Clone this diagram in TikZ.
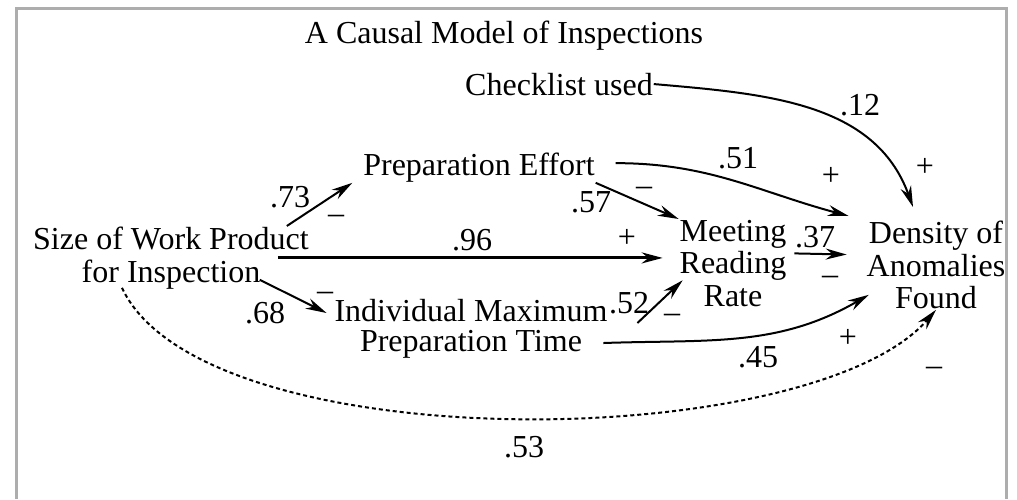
\documentclass[tikz,border=0pt]{standalone}
\usepackage{fontspec}
\setmainfont{Liberation Serif}
\usetikzlibrary{arrows.meta}

\tikzset{
  txt/.style={inner sep=0pt,align=center,font=\fontsize{32}{32.5}\selectfont},
  coef/.style={inner sep=0pt,anchor=base,font=\fontsize{32}{32}\selectfont},
  sgn/.style={coef},
}

\begin{document}
\begin{tikzpicture}[x=1pt,y=-1pt,line width=2pt,>={Stealth[length=21pt,width=11pt]}]
			\useasboundingbox (0,0) rectangle (1017,499);
			\draw[black!32,line width=2.8pt] (16.3,499) -- (16.3,8.7) -- (1006.8,8.7) -- (1006.8,499);
			% variables
			\node[txt,anchor=base] (title)at(504,43) {A Causal Model of Inspections};
			\node[txt,anchor=base] (check)at(559,95) {Checklist used};
			\node[txt,anchor=base] (prep)at(479,175) {Preparation Effort};
			\node[txt,anchor=north] (size)at(171,226) {Size of Work Product\\for Inspection};
			\node[txt,anchor=north] (meet)at(733,219) {Meeting\\Reading\\Rate};
			\node[txt,anchor=north] (dens)at(936,220) {Density of\\Anomalies\\Found};
			\node[txt,anchor=north,font=\fontsize{32}{30}\selectfont] (indiv)at(471,298) {Individual Maximum\\Preparation Time};
			% path coefficients
			\node[coef] (c12)at(860,115) {.12};
			\node[coef] (c51)at(738,168) {.51};
			\node[coef] (c57)at(591,212) {.57};
			\node[coef] (c73)at(290,207) {.73};
			\node[coef] (c96)at(472,250) {.96};
			\node[coef] (c37)at(815,247) {.37};
			\node[coef] (c52)at(629,313) {.52};
			\node[coef] (c68)at(265,323) {.68};
			\node[coef] (c45)at(758,367) {.45};
			\node[coef] (c53)at(524,457) {.53};
			% signs
			\node[sgn] (s12)at(925,176) {+};
			\node[sgn] (s51)at(831,185) {+};
			\node[sgn] (s57)at(644,195) {–};
			\node[sgn] (s96)at(627,247) {+};
			\node[sgn] (s73)at(336,223) {–};
			\node[sgn] (s37)at(830,284) {–};
			\node[sgn] (s52)at(672,322) {–};
			\node[sgn] (s68)at(325,300) {–};
			\node[sgn] (s45)at(848,347) {+};
			\node[sgn] (s53)at(934,375) {–};
			% paths
			\draw[->] (check.east) to[out=-5,in=110] ([xshift=-23pt,yshift=13pt]dens.north);
			\draw[->] ([xshift=20pt,yshift=4pt]prep.east) to[out=0,in=165] ([xshift=-17pt,yshift=4pt]dens.north west);
			\draw[->] (prep.south east) -- (meet.north west);
			\draw[->,line width=3pt,shorten <=-32pt,shorten >=16pt] (size.east) -- (size.east -| meet.west);
			\draw[->,shorten <=7pt,shorten >=19pt] ([yshift=10pt]meet.east) -- ([yshift=10pt]dens.west);
			\draw[->] ([xshift=-23pt]size.north east) -- ([xshift=-10pt]prep.south west);
			\draw[->] ([xshift=-50pt,yshift=10pt]size.south east) -- ([xshift=-7pt,yshift=-15pt]indiv.north west);
			\draw[->] ([xshift=29pt,yshift=-25pt]indiv.north east) -- ([xshift=4pt,yshift=-17pt]meet.west);
			\draw[->] ([xshift=-5pt,yshift=-14.5pt]indiv.east) to[out=2,in=-150] ([xshift=3pt,yshift=15pt]dens.south west);
			\draw[->,dash pattern=on 4pt off 3pt] ([xshift=-49pt,yshift=2pt]size.south) to[out=-65,in=-131,looseness=0.6] (dens.south);
		\end{tikzpicture}
\end{document}
